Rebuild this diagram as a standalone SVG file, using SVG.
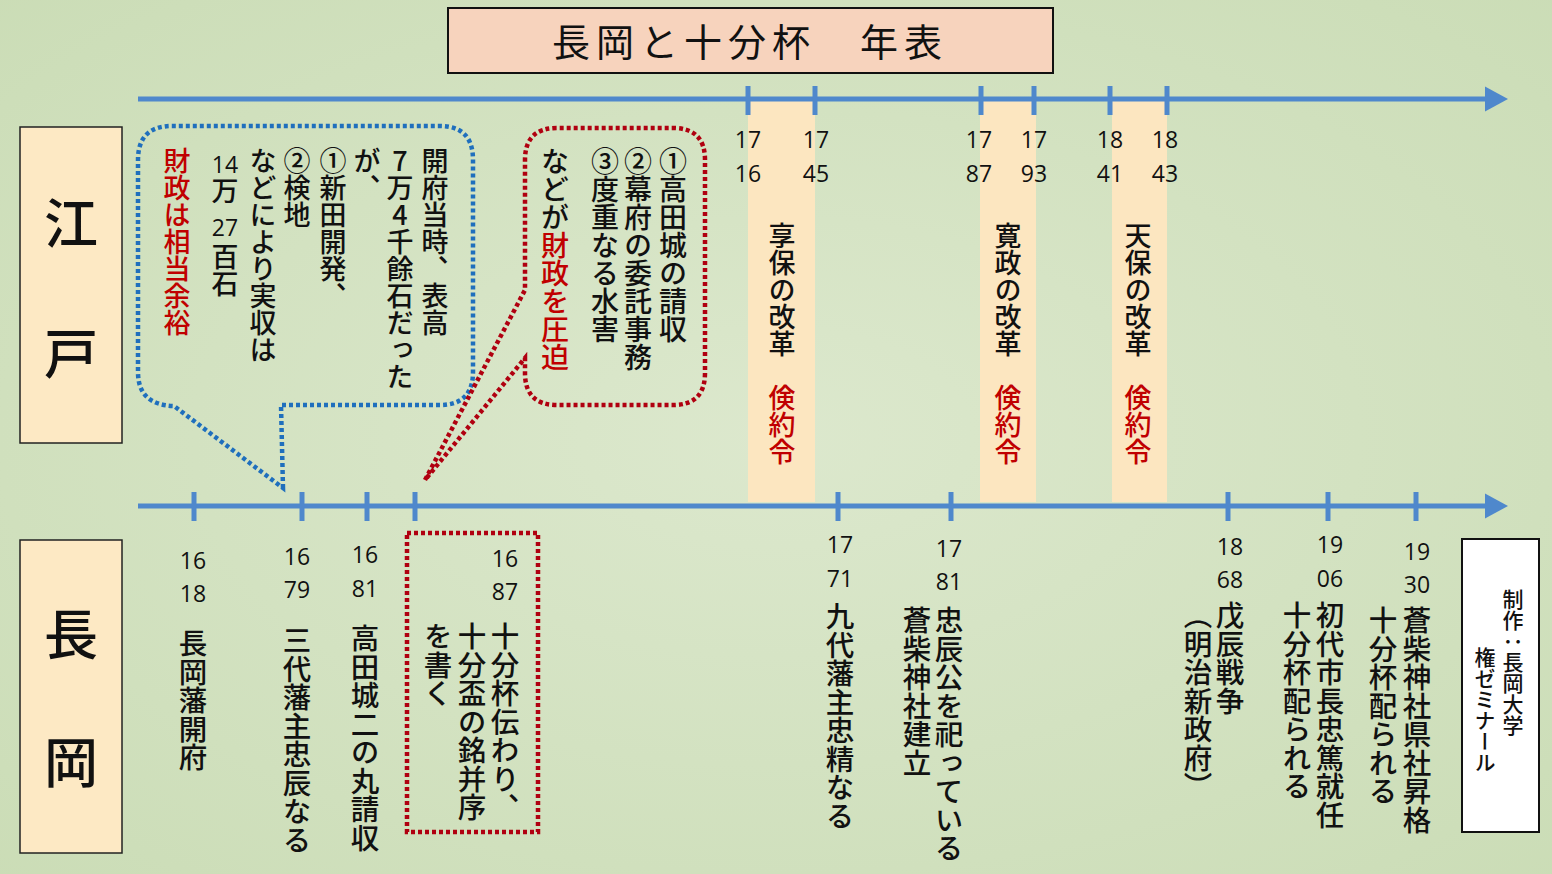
<svg xmlns="http://www.w3.org/2000/svg" width="1552" height="874" viewBox="0 0 1552 874">
<defs>
<radialGradient id="bg" cx="50%" cy="50%" r="75%">
<stop offset="0" stop-color="#dce8cd"/>
<stop offset="1" stop-color="#cadcb5"/>
</radialGradient>
<style>
.vt{font-family:"Noto Sans CJK JP","Noto Sans CJK SC",sans-serif;writing-mode:vertical-rl;fill:#111;font-weight:500;}
.up{text-orientation:upright;}
.yr{font-family:"Open Sans","Noto Sans","DejaVu Sans",sans-serif;font-size:23px;fill:#111;text-anchor:middle;}
.red{fill:#c00000;}
.axis{stroke:#4f88cc;stroke-width:5;fill:none;}
.tick{stroke:#4f88cc;stroke-width:5;}
.band{fill:#fce6c0;}
.bluedot{fill:none;stroke:#1f6fbd;stroke-width:4.5;stroke-dasharray:4 3;}
.reddot{fill:none;stroke:#b00010;stroke-width:4.5;stroke-dasharray:4 3;}
.lbl{fill:#fde9c4;stroke:#222;stroke-width:1.5;}
.big{font-family:"Noto Sans CJK JP","Noto Sans CJK SC",serif;font-size:54px;fill:#111;text-anchor:middle;font-weight:500;}
</style>
</defs>
<rect width="1552" height="874" fill="url(#bg)"/>

<g id="reform-bands">
<rect class="band" x="748" y="100" width="67" height="402"/>
<rect class="band" x="980" y="100" width="56" height="402"/>
<rect class="band" x="1112" y="100" width="55" height="402"/>
</g>

<g id="connectors">
<line class="axis" x1="138" y1="99" x2="1487" y2="99"/>
<polygon points="1485,86.5 1508,99 1485,111.5" fill="#4f88cc"/>
<line class="axis" x1="138" y1="506" x2="1487" y2="506"/>
<polygon points="1485,493.5 1508,506 1485,518.5" fill="#4f88cc"/>
<g class="tick">
<line x1="748" y1="86" x2="748" y2="115"/>
<line x1="815" y1="86" x2="815" y2="115"/>
<line x1="981" y1="86" x2="981" y2="115"/>
<line x1="1034" y1="86" x2="1034" y2="115"/>
<line x1="1110" y1="86" x2="1110" y2="115"/>
<line x1="1167" y1="86" x2="1167" y2="115"/>
<line x1="194" y1="492" x2="194" y2="521"/>
<line x1="302" y1="492" x2="302" y2="521"/>
<line x1="367" y1="492" x2="367" y2="521"/>
<line x1="415" y1="492" x2="415" y2="521"/>
<line x1="838" y1="492" x2="838" y2="521"/>
<line x1="951" y1="492" x2="951" y2="521"/>
<line x1="1228" y1="492" x2="1228" y2="521"/>
<line x1="1328" y1="492" x2="1328" y2="521"/>
<line x1="1416" y1="492" x2="1416" y2="521"/>
</g>
</g>

<g id="title">
<rect x="448" y="8" width="605" height="65" fill="#f7d3bd" stroke="#111" stroke-width="2"/>
<text x="750" y="56" font-family="Noto Sans CJK JP, Noto Sans CJK SC, serif" font-size="38" text-anchor="middle" letter-spacing="6" fill="#111">長岡と十分杯　年表</text>
</g>

<g id="label-edo">
<rect class="lbl" x="20" y="127" width="102" height="316"/>
<text class="big" x="71" y="244">江</text>
<text class="big" x="71" y="374">戸</text>
</g>
<g id="label-nagaoka">
<rect class="lbl" x="20" y="540" width="102" height="313"/>
<text class="big" x="71" y="655">長</text>
<text class="big" x="71" y="783">岡</text>
</g>

<g id="blue-bubble">
<path class="bluedot" d="M283 488 L281 405 L440 405 Q473 405 473 372 L473 160 Q473 126 440 126 L172 126 Q138 126 138 160 L138 372 Q138 405 174 406 Z"/>
<text class="vt" x="435" y="147" font-size="27">開府当時、表高</text>
<text class="vt up" x="400" y="147" font-size="27">7万4千餘石だった</text>
<text class="vt" x="367" y="147" font-size="27">が、</text>
<text class="vt" x="333" y="147" font-size="27">①新田開発、</text>
<text class="vt" x="297" y="147" font-size="27">②検地</text>
<text class="vt" x="263" y="147" font-size="27">などにより実収は</text>
<text class="yr" x="225" y="173">14</text>
<text class="vt" x="225" y="177" font-size="27">万</text>
<text class="yr" x="225" y="236">27</text>
<text class="vt" x="225" y="243" font-size="27">百石</text>
<text class="vt red" x="177" y="147" font-size="27">財政は相当余裕</text>
</g>

<g id="red-bubble">
<path class="reddot" d="M425 480 L525 290 L525 160 Q525 128 557 128 L673 128 Q705 128 705 160 L705 373 Q705 405 673 405 L557 405 Q525 405 525 373 L525 358 Z"/>
<text class="vt" x="673" y="147" font-size="28">①高田城の請収</text>
<text class="vt" x="638" y="147" font-size="28">②幕府の委託事務</text>
<text class="vt" x="605" y="147" font-size="28">③度重なる水害</text>
<text class="vt" x="555" y="147" font-size="28">などが<tspan class="red">財政を圧迫</tspan></text>
</g>

<g id="kyoho">
<text class="yr" x="748" y="148">17</text>
<text class="yr" x="748" y="182">16</text>
<text class="yr" x="816" y="148">17</text>
<text class="yr" x="816" y="182">45</text>
<text class="vt" x="782" y="222" font-size="27">享保の改革　<tspan class="red">倹約令</tspan></text>
</g>
<g id="kansei">
<text class="yr" x="979" y="148">17</text>
<text class="yr" x="979" y="182">87</text>
<text class="yr" x="1034" y="148">17</text>
<text class="yr" x="1034" y="182">93</text>
<text class="vt" x="1008" y="222" font-size="27">寛政の改革　<tspan class="red">倹約令</tspan></text>
</g>
<g id="tenpo">
<text class="yr" x="1110" y="148">18</text>
<text class="yr" x="1110" y="182">41</text>
<text class="yr" x="1165" y="148">18</text>
<text class="yr" x="1165" y="182">43</text>
<text class="vt" x="1138" y="222" font-size="27">天保の改革　<tspan class="red">倹約令</tspan></text>
</g>

<g id="ev1618">
<text class="yr" x="193" y="569">16</text>
<text class="yr" x="193" y="602">18</text>
<text class="vt" x="193" y="629" font-size="28.5">長岡藩開府</text>
</g>
<g id="ev1679">
<text class="yr" x="297" y="565">16</text>
<text class="yr" x="297" y="598">79</text>
<text class="vt" x="297" y="626" font-size="28.5">三代藩主忠辰なる</text>
</g>
<g id="ev1681">
<text class="yr" x="365" y="563">16</text>
<text class="yr" x="365" y="597">81</text>
<text class="vt" x="365" y="624" font-size="28.5">高田城二の丸請収</text>
</g>
<g id="ev1687">
<rect class="reddot" x="407" y="533" width="131" height="299"/>
<text class="yr" x="505" y="567">16</text>
<text class="yr" x="505" y="600">87</text>
<text class="vt" x="505" y="622" font-size="28.5">十分杯伝わり、</text>
<text class="vt" x="472" y="622" font-size="28.5">十分盃の銘并序</text>
<text class="vt" x="438" y="622" font-size="28.5">を書く</text>
</g>
<g id="ev1771">
<text class="yr" x="840" y="553">17</text>
<text class="yr" x="840" y="587">71</text>
<text class="vt" x="840" y="602" font-size="28.5">九代藩主忠精なる</text>
</g>
<g id="ev1781">
<text class="yr" x="949" y="557">17</text>
<text class="yr" x="949" y="590">81</text>
<text class="vt" x="949" y="606" font-size="28.5">忠辰公を祀っている</text>
<text class="vt" x="917" y="606" font-size="28.5">蒼柴神社建立</text>
</g>
<g id="ev1868">
<text class="yr" x="1230" y="555">18</text>
<text class="yr" x="1230" y="588">68</text>
<text class="vt" x="1230" y="601" font-size="28.5">戊辰戦争</text>
<text class="vt" x="1198" y="601" font-size="28.5">（明治新政府）</text>
</g>
<g id="ev1906">
<text class="yr" x="1330" y="553">19</text>
<text class="yr" x="1330" y="587">06</text>
<text class="vt" x="1330" y="601" font-size="28.5">初代市長忠篤就任</text>
<text class="vt" x="1297" y="601" font-size="28.5">十分杯配られる</text>
</g>
<g id="ev1930">
<text class="yr" x="1417" y="560">19</text>
<text class="yr" x="1417" y="593">30</text>
<text class="vt" x="1417" y="606" font-size="28.5">蒼柴神社県社昇格</text>
<text class="vt" x="1383" y="606" font-size="28.5">十分杯配られる</text>
</g>

<g id="credit">
<rect x="1462" y="539" width="77" height="293" fill="#fff" stroke="#111" stroke-width="2"/>
<text class="vt" x="1513" y="589" font-size="21">制作：長岡大学</text>
<text class="vt" x="1485" y="647" font-size="21">権ゼミナール</text>
</g>
</svg>
